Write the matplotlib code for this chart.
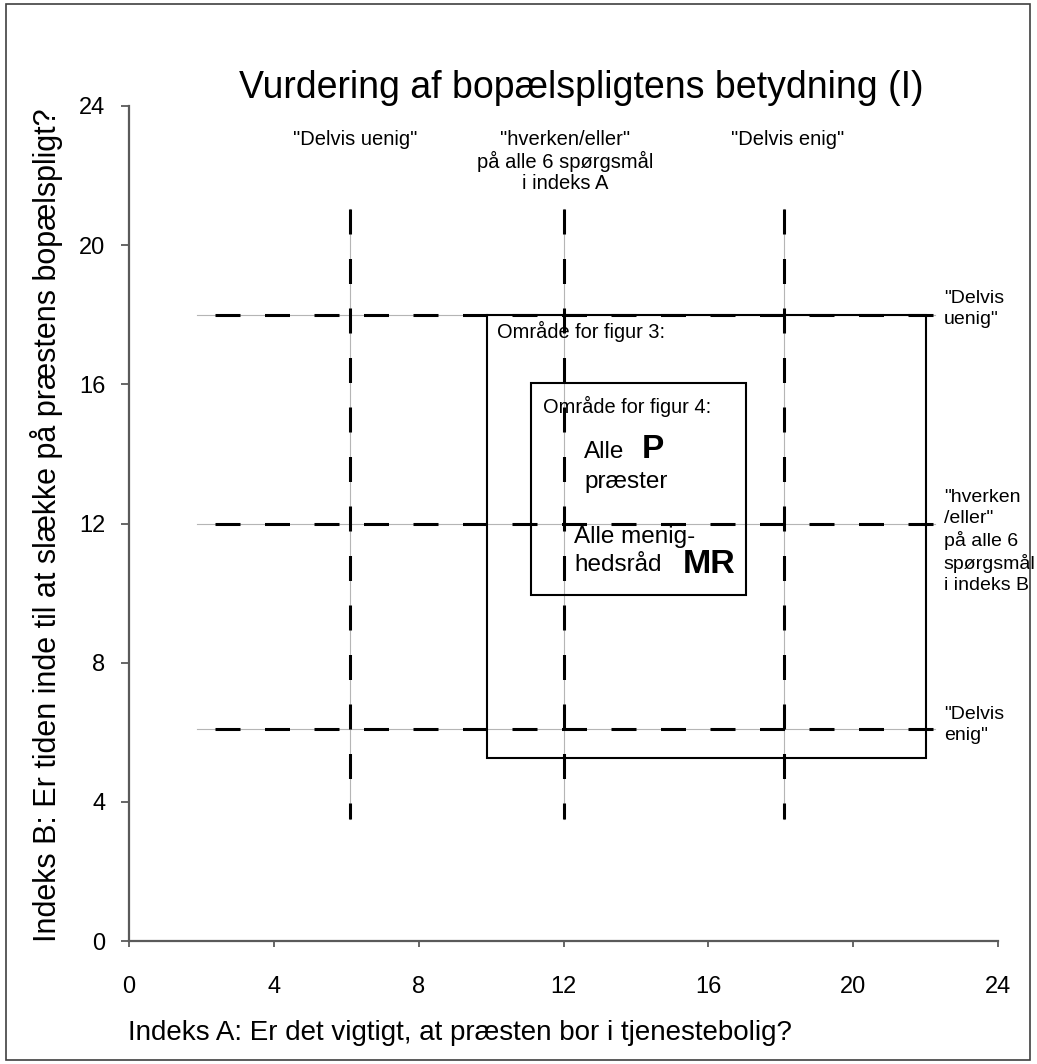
import matplotlib
matplotlib.use("Agg")
import matplotlib.pyplot as plt
from matplotlib.patches import Rectangle

plt.rcParams['font.family'] = ['Liberation Sans', 'DejaVu Sans']
plt.rcParams['lines.scale_dashes'] = False

# ---- data ----
title = "Vurdering af bopælspligtens betydning (I)"
xlabel = "Indeks A: Er det vigtigt, at præsten bor i tjenestebolig?"
ylabel = "Indeks B: Er tiden inde til at slække på præstens bopælspligt?"
ticks = [0, 4, 8, 12, 16, 20, 24]

# reference lines for index A (vertical) and index B (horizontal)
vline_x = [6.1, 12.0, 18.1]
vline_span = [21.05, 3.5]
hline_y = [18.0, 12.0, 6.1]
hline_span = [1.88, 22.25]

top_labels = ['"Delvis uenig"', '"hverken/eller"\npå alle 6 spørgsmål\ni indeks A', '"Delvis enig"']
top_label_x = [6.25, 12.05, 18.2]
right_labels = ['"Delvis\nuenig"', '"hverken\n/eller"\npå alle 6\nspørgsmål\ni indeks B', '"Delvis\nenig"']
right_label_y = [18.16, 11.49, 6.2]

# area rectangles (x0, y0, x1, y1)
fig3_box = (9.9, 5.25, 22.0, 18.0)
fig4_box = (11.1, 9.95, 17.05, 16.05)

# ---- figure ----
W, H = 1037, 1064
fig = plt.figure(figsize=(W / 100, H / 100), dpi=100)
ax = fig.add_axes([129 / W, 1 - 941 / H, (998 - 129) / W, (941 - 106) / H])
ax.set_xlim(0, 24)
ax.set_ylim(0, 24)
ax.set_xticks(ticks)
ax.set_yticks(ticks)
for s in ['top', 'right']:
    ax.spines[s].set_visible(False)
spc = '#5a5a5a'
for s in ['left', 'bottom']:
    ax.spines[s].set_color(spc)
    ax.spines[s].set_linewidth(1.6)
ax.tick_params(axis='y', length=6, width=1.3, color=spc, pad=11, labelsize=17)
ax.tick_params(axis='x', length=4, width=1.3, color=spc, pad=21, labelsize=17)

grey = '#b5b5b5'
px = 0.72  # points per pixel
for x in vline_x:
    ax.plot([x, x], vline_span, color=grey, lw=0.8, zorder=1)
    ax.plot([x, x], vline_span, color='black', lw=2.2,
            linestyle=(0, (25 * px, 24.5 * px)),
            dash_capstyle='butt', zorder=2)
for y in hline_y:
    ax.plot(hline_span, [y, y], color=grey, lw=0.8, zorder=1)
    ax.plot(hline_span, [y, y], color='black', lw=2.2,
            linestyle=(31.5 * px, (25 * px, 24.5 * px)),
            dash_capstyle='butt', zorder=2)

for (x0, y0, x1, y1) in [fig3_box, fig4_box]:
    ax.add_patch(Rectangle((x0, y0), x1 - x0, y1 - y0, fill=False,
                           edgecolor='black', lw=1.5, zorder=3))

for lab, x in zip(top_labels, top_label_x):
    ax.text(x, 23.3, lab, ha='center', va='top', fontsize=14.5,
            linespacing=1.1, multialignment='center')
for lab, y in zip(right_labels, right_label_y):
    ax.text(22.5, y, lab, ha='left', va='center', fontsize=14,
            linespacing=1.28, clip_on=False)

ax.text(10.17, 17.53, "Område for figur 3:", ha='left', va='center', fontsize=14.4)
ax.text(11.44, 15.37, "Område for figur 4:", ha='left', va='center', fontsize=14.4)
ax.text(12.57, 14.05, "Alle", ha='left', va='center', fontsize=17.5)
ax.text(12.57, 13.19, "præster", ha='left', va='center', fontsize=17.5)
ax.text(14.17, 14.12, "P", ha='left', va='center', fontsize=24, fontweight='bold')
ax.text(12.29, 11.6, "Alle menig-", ha='left', va='center', fontsize=17.5)
ax.text(12.29, 10.8, "hedsråd", ha='left', va='center', fontsize=17.5)
ax.text(15.3, 10.82, "MR", ha='left', va='center', fontsize=24.5, fontweight='bold')

fig.text(581 / W, 1 - 88 / H, title, ha='center', va='center', fontsize=27)
fig.text(128 / W, 1 - 1033 / H, xlabel, ha='left', va='center', fontsize=20)
fig.text(47 / W, 1 - 525 / H, ylabel, ha='center', va='center', rotation=90, fontsize=22)

fig.patches.append(Rectangle((6 / W, 4 / H), (1030 - 6) / W, (1060 - 4) / H,
                             transform=fig.transFigure, fill=False,
                             edgecolor='#404040', lw=1.2))

fig.savefig('out.png', dpi=100)
